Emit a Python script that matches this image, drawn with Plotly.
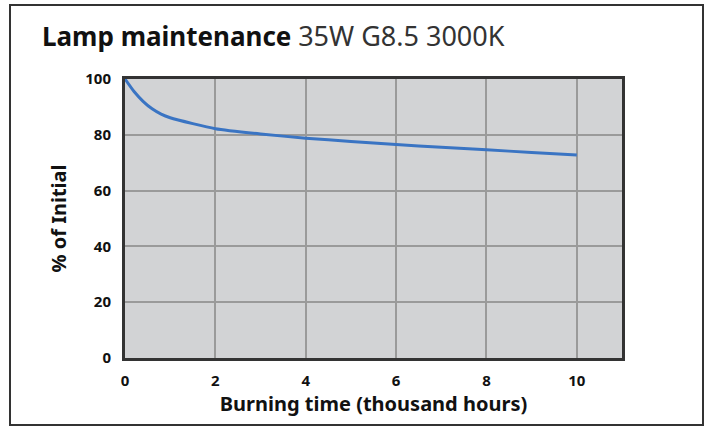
import plotly.graph_objects as go

# Data
hours_k = [0, 0.2, 0.4, 0.6, 0.8, 1.0, 1.5, 2, 3, 4, 5, 6, 7, 8, 9, 10]
pct_initial = [100, 95.5, 92, 89.3, 87.4, 86.1, 84.0, 82.2, 80.3, 78.8, 77.6, 76.5, 75.5, 74.6, 73.7, 72.8]
x_ticks = [0, 2, 4, 6, 8, 10]
y_ticks = [0, 20, 40, 60, 80, 100]

W, H = 712, 428
ML, MR, MT, MB = 125, 90, 79, 70
FONT = "Noto Sans"

fig = go.Figure()
fig.add_trace(go.Scatter(
    x=hours_k, y=pct_initial, mode="lines",
    line=dict(color="#3a74c3", width=3, shape="spline", smoothing=0.6),
    hoverinfo="skip", showlegend=False,
))

pw = W - ML - MR
ph = H - MT - MB
def px_x(p):
    return (p - ML) / pw
def px_y(p):
    return (H - MB - p) / ph

fig.update_layout(
    width=W, height=H,
    margin=dict(l=ML, r=MR, t=MT, b=MB),
    paper_bgcolor="white",
    plot_bgcolor="#d2d3d5",
    font=dict(family=FONT, color="#111111"),
    title=dict(
        text="<b>Lamp maintenance</b> <span style='color:#333333;font-size:27px'>35W G8.5 3000K</span>",
        font=dict(family=FONT, size=26, color="#111111"),
        xref="container", yref="container",
        x=42 / W, xanchor="left",
        y=1 - 37 / H, yanchor="middle",
    ),
    xaxis=dict(
        range=[0, 11], tickvals=x_ticks,
        showgrid=True, gridcolor="#9a9a9a", gridwidth=1.5,
        showline=True, linecolor="#333333", linewidth=3, mirror=True,
        zeroline=False,
        ticks="outside", ticklen=7, tickcolor="rgba(0,0,0,0)",
        tickfont=dict(family=FONT, size=15, color="#111111", weight="bold"),
        title=dict(text="<b>Burning time (thousand hours)</b>",
                   font=dict(family=FONT, size=20, color="#111111"), standoff=6),
        fixedrange=True,
    ),
    yaxis=dict(
        range=[0, 100], tickvals=y_ticks,
        showgrid=True, gridcolor="#9a9a9a", gridwidth=1.5,
        showline=True, linecolor="#333333", linewidth=3, mirror=True,
        zeroline=False,
        ticks="outside", ticklen=8, tickcolor="rgba(0,0,0,0)",
        tickfont=dict(family=FONT, size=15, color="#111111", weight="bold"),
        title=dict(text="<b>% of Initial</b>",
                   font=dict(family=FONT, size=20, color="#111111"), standoff=14),
        fixedrange=True,
    ),
    shapes=[dict(
        type="rect", xref="paper", yref="paper",
        x0=px_x(10), x1=px_x(703), y0=px_y(425), y1=px_y(5),
        line=dict(color="#333333", width=2), fillcolor="rgba(0,0,0,0)",
        layer="below",
    )],
)

fig.write_html(
    "out.html",
    config={"displayModeBar": False},
    post_script="document.body.style.margin='0';document.body.style.overflow='hidden';",
)
